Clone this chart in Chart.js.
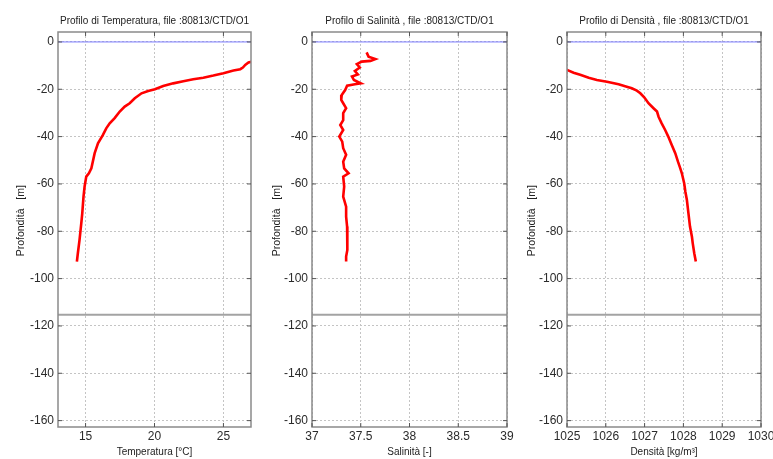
<!DOCTYPE html>
<html>
<head>
<meta charset="utf-8">
<script src="https://cdn.jsdelivr.net/npm/chart.js@4.4.0/dist/chart.umd.min.js"></script>
<style>
  body { margin: 0; background: #fff; width: 773px; height: 459px; overflow: hidden; position: relative; }
  canvas { position: absolute; top: 0; }
</style>
</head>
<body>
<canvas id="tempChart" width="256" height="459" style="left:0"></canvas>
<canvas id="salChart" width="268" height="459" style="left:256px"></canvas>
<canvas id="densChart" width="262" height="459" style="left:511px"></canvas>
<script>
const stationFile = '80813/CTD/O1';
const seabedDepth = -115.3;
const depthLimits = [-162.7, 4.2];
const depthTicks = [0, -20, -40, -60, -80, -100, -120, -140, -160];

// temperature cast
const tempLimits = [13, 27];
const tempTicks = [15, 20, 25];
const tempDepth = [-8.3, -8.7, -9.7, -10.8, -11.5, -12.1, -13.2, -14.2, -15.1, -15.8, -16.6, -17.5, -18.6, -20.0, -20.7, -21.7, -23.8, -25.9, -27.3, -29.4, -32.2, -34.4, -36.5, -39.3, -42.8, -47.0, -53.4, -55.5, -56.9, -61.1, -65.4, -72.4, -76.6, -83.7, -89.3, -92.8];
const tempValue = [27.07, 26.82, 26.58, 26.41, 26.22, 25.73, 25.0, 24.27, 23.54, 22.81, 22.09, 21.36, 20.63, 20.03, 19.54, 19.06, 18.57, 18.2, 17.84, 17.48, 17.11, 16.75, 16.5, 16.26, 15.9, 15.66, 15.42, 15.24, 15.05, 14.93, 14.85, 14.76, 14.69, 14.56, 14.44, 14.37];

// salinity cast
const salLimits = [37, 39];
const salTicks = [37, 37.5, 38, 38.5, 39];
const salDepth = [-4.4, -6.2, -7.2, -8.0, -8.3, -9.4, -10.8, -12.3, -13.7, -14.6, -16.1, -17.5, -17.9, -18.5, -20.3, -22.4, -24.5, -25.9, -28.0, -30.1, -33.0, -35.1, -37.2, -40.0, -42.1, -44.9, -47.7, -50.6, -53.4, -55.5, -56.9, -61.1, -65.4, -69.6, -73.8, -78.0, -83.7, -87.9, -90.7, -92.8];
const salValue = [37.56, 37.58, 37.65, 37.60, 37.51, 37.46, 37.49, 37.44, 37.47, 37.41, 37.43, 37.50, 37.44, 37.36, 37.34, 37.305, 37.30, 37.32, 37.35, 37.32, 37.32, 37.29, 37.32, 37.28, 37.31, 37.32, 37.35, 37.32, 37.33, 37.375, 37.32, 37.33, 37.32, 37.35, 37.35, 37.36, 37.365, 37.36, 37.35, 37.35];

// density cast
const densLimits = [1025, 1030];
const densTicks = [1025, 1026, 1027, 1028, 1029, 1030];
const densDepth = [-11.8, -13.0, -13.9, -15.1, -16.1, -16.8, -17.9, -18.9, -19.6, -20.6, -21.7, -23.4, -25.9, -28.0, -29.4, -31.6, -34.4, -37.2, -40.0, -43.5, -47.0, -50.6, -53.4, -55.5, -59.7, -63.2, -66.8, -72.4, -78.0, -82.3, -85.0, -89.3, -92.8];
const densValue = [1025.0, 1025.17, 1025.34, 1025.56, 1025.77, 1026.03, 1026.33, 1026.54, 1026.67, 1026.8, 1026.89, 1026.99, 1027.1, 1027.23, 1027.32, 1027.36, 1027.44, 1027.53, 1027.61, 1027.7, 1027.79, 1027.86, 1027.92, 1027.96, 1028.02, 1028.05, 1028.09, 1028.13, 1028.17, 1028.22, 1028.24, 1028.28, 1028.32];

const FONT = "'Liberation Sans', Arial, sans-serif";

// box around the axes with small inward tick marks, matlab style
const axesFrame = {
  id: 'axesFrame',
  afterDatasetsDraw(chart) {
    const { ctx, chartArea: a, scales } = chart;
    ctx.save();
    ctx.strokeStyle = '#8a8a8a';
    ctx.lineWidth = 1.5;
    ctx.strokeRect(a.left, a.top, a.right - a.left, a.bottom - a.top);
    ctx.lineWidth = 1;
    ctx.strokeStyle = '#555';
    ctx.beginPath();
    scales.x.ticks.forEach(t => {
      const px = scales.x.getPixelForValue(t.value);
      ctx.moveTo(px, a.bottom); ctx.lineTo(px, a.bottom - 4);
      ctx.moveTo(px, a.top); ctx.lineTo(px, a.top + 4);
    });
    scales.y.ticks.forEach(t => {
      const py = scales.y.getPixelForValue(t.value);
      ctx.moveTo(a.left, py); ctx.lineTo(a.left + 4, py);
      ctx.moveTo(a.right, py); ctx.lineTo(a.right - 4, py);
    });
    ctx.stroke();
    ctx.restore();
  }
};

function profileChart(id, opts) {
  const profile = opts.depth.map((d, i) => ({ x: opts.values[i], y: d }));
  return new Chart(document.getElementById(id), {
    type: 'scatter',
    data: {
      datasets: [
        {
          data: profile,
          showLine: true,
          borderColor: '#ff0000',
          borderWidth: 2.6,
          pointRadius: 0,
          tension: 0
        },
        {
          data: [{ x: opts.limits[0], y: 0 }, { x: opts.limits[1], y: 0 }],
          showLine: true,
          borderColor: '#7b7bff',
          borderWidth: 1,
          pointRadius: 0
        },
        {
          data: [{ x: opts.limits[0], y: seabedDepth }, { x: opts.limits[1], y: seabedDepth }],
          showLine: true,
          borderColor: '#a3a3a3',
          borderWidth: 2,
          pointRadius: 0
        }
      ]
    },
    options: {
      responsive: false,
      animation: false,
      layout: { padding: { top: 0, right: opts.padRight, bottom: 0, left: 0 } },
      plugins: {
        legend: { display: false },
        tooltip: { enabled: false },
        title: {
          display: true,
          fullSize: false,
          text: opts.title,
          color: '#222',
          font: { family: FONT, size: 10, weight: 'normal' },
          padding: { top: 15.5, bottom: 4.5 }
        }
      },
      scales: {
        x: {
          type: 'linear',
          min: opts.limits[0],
          max: opts.limits[1],
          afterBuildTicks: s => { s.ticks = opts.ticks.map(v => ({ value: v })); },
          afterFit: s => { s.height = 32; s.paddingLeft = 0; s.paddingRight = 0; },
          ticks: {
            color: '#2b2b2b',
            font: { family: FONT, size: 12 },
            padding: 2,
            maxRotation: 0,
            callback: v => String(v)
          },
          grid: { color: '#c4c4c4', drawTicks: false },
          border: { display: false, dash: [2, 2] },
          title: {
            display: true,
            text: opts.xLabel,
            color: '#222',
            font: { family: FONT, size: 10 },
            padding: { top: 0, bottom: 0.5 }
          }
        },
        y: {
          type: 'linear',
          min: depthLimits[0],
          max: depthLimits[1],
          afterBuildTicks: s => { s.ticks = depthTicks.map(v => ({ value: v })); },
          afterFit: s => { s.width = opts.yWidth; s.paddingTop = 0; s.paddingBottom = 0; },
          ticks: {
            color: '#2b2b2b',
            font: { family: FONT, size: 12 },
            padding: 4,
            callback: v => String(v)
          },
          grid: { color: '#c4c4c4', drawTicks: false },
          border: { display: false, dash: [2, 2] },
          title: {
            display: true,
            // leading blanks push the label up a little from the axis centre
            text: '      Profondità   [m]',
            color: '#222',
            font: { family: FONT, size: 10.5 },
            padding: { top: 15, bottom: 0 }
          }
        }
      }
    },
    plugins: [axesFrame]
  });
}

profileChart('tempChart', {
  title: 'Profilo di Temperatura, file :' + stationFile,
  xLabel: 'Temperatura [°C]',
  depth: tempDepth, values: tempValue,
  limits: tempLimits, ticks: tempTicks,
  yWidth: 58, padRight: 5
});

profileChart('salChart', {
  title: 'Profilo di Salinità , file :' + stationFile,
  xLabel: 'Salinità [-]',
  depth: salDepth, values: salValue,
  limits: salLimits, ticks: salTicks,
  yWidth: 56, padRight: 17
});

profileChart('densChart', {
  title: 'Profilo di Densità , file :' + stationFile,
  xLabel: 'Densità [kg/m³]',
  depth: densDepth, values: densValue,
  limits: densLimits, ticks: densTicks,
  yWidth: 56, padRight: 12
});
</script>
</body>
</html>
